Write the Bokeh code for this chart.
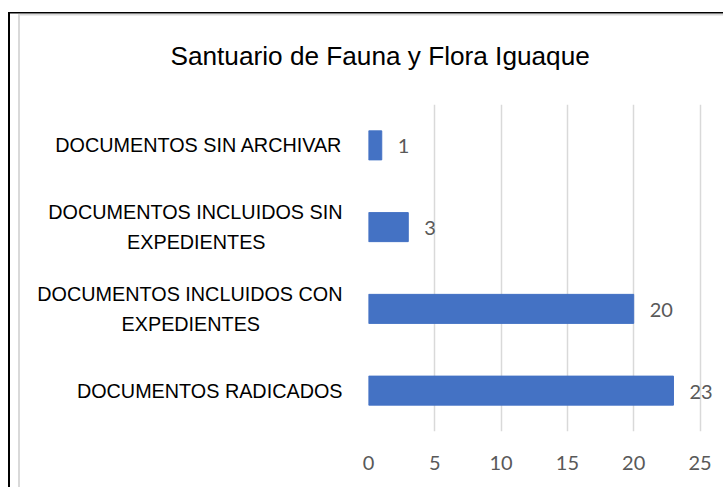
from bokeh.plotting import figure
from bokeh.models import ColumnDataSource, FactorRange, Range1d, LabelSet, FixedTicker
from bokeh.core.properties import value
from bokeh.embed import file_html
from bokeh.resources import INLINE

# ---------------- data ----------------
title_text = "Santuario de Fauna y Flora Iguaque"
categories = [
    "DOCUMENTOS RADICADOS",
    "DOCUMENTOS INCLUIDOS CON\nEXPEDIENTES",
    "DOCUMENTOS INCLUIDOS SIN\nEXPEDIENTES",
    "DOCUMENTOS SIN ARCHIVAR",
]
values = [23, 20, 3, 1]
x_ticks = [0, 5, 10, 15, 20, 25]

# ---------------- style ----------------
W, H = 723, 487
LEFT, RIGHT, TOP, BOTTOM = 368, 0, 104, 56
X_END = 25 * (W - LEFT) / 331.5      # last gridline (25) sits ~24px from the right edge
BAR_COLOR = "#4472c4"
GRID_COLOR = "#d9d9d9"
LABEL_GRAY = "#595959"
CAT_FONT = 19.8

# Arial / Liberation Sans advance widths (1/1000 em), used to centre the wrapped lines
ARIAL = {" ": 278, "A": 667, "B": 667, "C": 722, "D": 722, "E": 667, "F": 611, "G": 778,
         "H": 722, "I": 278, "J": 500, "K": 667, "L": 556, "M": 833, "N": 722, "O": 778,
         "P": 667, "Q": 778, "R": 722, "S": 667, "T": 611, "U": 722, "V": 667, "W": 944,
         "X": 667, "Y": 667, "Z": 611}


def centred(label):
    """Pad shorter lines with trailing no-break spaces so the lines look centred."""
    lines = label.split("\n")
    widths = [sum(ARIAL.get(c, 600) for c in ln) for ln in lines]
    wmax = max(widths)
    out = []
    for ln, w in zip(lines, widths):
        k = int(round((wmax - w) / 2.0 / ARIAL[" "]))
        out.append(ln + "\u00a0" * k)
    return "\n".join(out)


factors = [centred(c) for c in categories]

source = ColumnDataSource(data=dict(cat=factors, val=values,
                                    vtxt=[str(v) for v in values]))

p = figure(width=W, height=H, output_backend="svg", toolbar_location=None,
           y_range=FactorRange(factors=factors, range_padding=0),
           x_range=Range1d(0, X_END),
           min_border_left=LEFT, min_border_right=RIGHT,
           min_border_top=TOP, min_border_bottom=BOTTOM)
p.outline_line_color = None
p.background_fill_color = None
p.border_fill_color = None
# page-border decoration (black outer lines, light grey inner border)
p.styles = {
    "background-color": "white",
    "background-image": ("linear-gradient(#000,#000), linear-gradient(#000,#000), "
                         "linear-gradient(#d9d9d9,#d9d9d9), linear-gradient(#d9d9d9,#d9d9d9)"),
    "background-position": "8px 12px, 8px 12px, 18px 13.5px, 18px 13.5px",
    "background-size": "2px 100%, 100% 1.5px, 2px 100%, 100% 1.5px",
    "background-repeat": "no-repeat",
}

p.hbar(y="cat", right="val", left=0, height=0.355, source=source,
       fill_color=BAR_COLOR, line_color=BAR_COLOR)

# title
p.title.text = title_text
p.title.align = "left"
p.title.offset = 170 - LEFT
p.title.standoff = 67
p.title.text_font = "Liberation Sans"
p.title.text_font_size = "26.2px"
p.title.text_font_style = "normal"
p.title.text_color = "black"

# y axis: category labels
p.yaxis.axis_line_color = None
p.yaxis.major_tick_line_color = None
p.yaxis.major_tick_out = 0
p.yaxis.major_tick_in = 0
p.yaxis.minor_tick_line_color = None
p.yaxis.major_label_standoff = 26
p.yaxis.major_label_text_font = "Liberation Sans"
p.yaxis.major_label_text_font_size = f"{CAT_FONT}px"
p.yaxis.major_label_text_color = "black"
p.yaxis.major_label_text_line_height = 1.35
p.ygrid.grid_line_color = None

# x axis
p.xaxis.ticker = FixedTicker(ticks=x_ticks)
p.xaxis.axis_line_color = None
p.xaxis.major_tick_line_color = None
p.xaxis.major_tick_out = 0
p.xaxis.major_tick_in = 0
p.xaxis.minor_tick_line_color = None
p.xaxis.major_label_standoff = 24
p.xaxis.major_label_text_font = "Lato"
p.xaxis.major_label_text_font_size = "20px"
p.xaxis.major_label_text_color = LABEL_GRAY
p.xgrid.ticker = FixedTicker(ticks=x_ticks)
p.xgrid.grid_line_color = GRID_COLOR
p.xgrid.grid_line_width = 1.5

# value labels
p.add_layout(LabelSet(x="val", y="cat", text="vtxt", x_offset=16, y_offset=-1, source=source,
                      text_align="left", text_baseline="middle",
                      text_font=value("Lato"), text_font_size="20px",
                      text_color=LABEL_GRAY))

open("out.html", "w").write(file_html(p, INLINE))
